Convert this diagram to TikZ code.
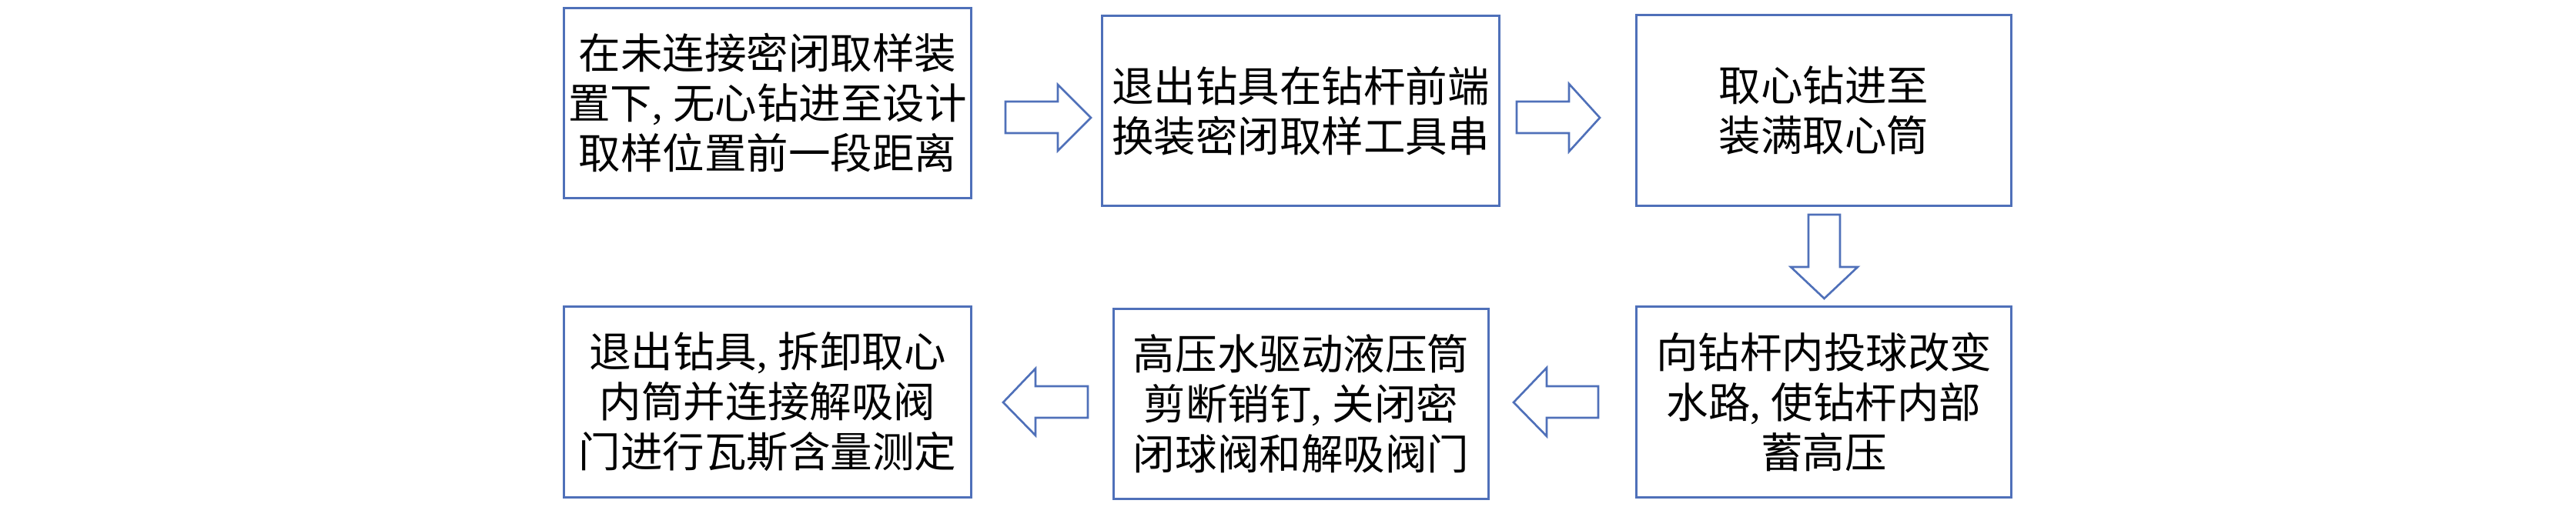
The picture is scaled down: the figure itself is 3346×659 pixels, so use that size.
\documentclass[tikz,border=0pt]{standalone}
\usepackage{fontspec}
\setmainfont{Noto Sans CJK SC}
\newfontfamily\lat{Liberation Serif}
\definecolor{boxblue}{RGB}{79,112,185}
\begin{document}
\begin{tikzpicture}[x=0.01cm,y=-0.01cm,
  box/.style={draw=boxblue,line width=0.85pt,align=center,inner sep=0pt,
    font=\fontsize{15.5pt}{18.5pt}\selectfont},
  blockarrow/.style={draw=boxblue,line width=0.75pt,line join=miter,fill=white}]
\useasboundingbox (0,0) rectangle (3346,659);
\node[box,minimum width=5.28cm,minimum height=2.46cm] (b1) at (997,134)
  {在未连接密闭取样装\\置下{\lat, }无心钻进至设计\\取样位置前一段距离};
\node[box,minimum width=5.15cm,minimum height=2.46cm] (b2) at (1689.5,144)
  {退出钻具在钻杆前端\\换装密闭取样工具串};
\node[box,minimum width=4.86cm,minimum height=2.47cm] (b3) at (2369,143.5)
  {取心钻进至\\装满取心筒};
\node[box,minimum width=4.86cm,minimum height=2.47cm] (b4) at (2369,522.5)
  {向钻杆内投球改变\\水路{\lat, }使钻杆内部\\蓄高压};
\node[box,minimum width=4.86cm,minimum height=2.46cm] (b5) at (1690,525)
  {高压水驱动液压筒\\剪断销钉{\lat, }关闭密\\闭球阀和解吸阀门};
\node[box,minimum width=5.28cm,minimum height=2.47cm] (b6) at (997,522.5)
  {退出钻具{\lat, }拆卸取心\\内筒并连接解吸阀\\门进行瓦斯含量测定};
% block arrows
\draw[blockarrow] (1306,132) -- (1374,132) -- (1374,110) -- (1417,153) -- (1374,196) -- (1374,173) -- (1306,173) -- cycle;
\draw[blockarrow] (1970,132) -- (2038,132) -- (2038,109) -- (2078,153) -- (2038,197) -- (2038,173) -- (1970,173) -- cycle;
\draw[blockarrow] (2349,279) -- (2390,279) -- (2390,347) -- (2413,347) -- (2369.5,388) -- (2326,347) -- (2349,347) -- cycle;
\draw[blockarrow] (2076,502) -- (2009,502) -- (2009,478) -- (1966,523) -- (2009,567) -- (2009,543) -- (2076,543) -- cycle;
\draw[blockarrow] (1413,502) -- (1345,502) -- (1345,479) -- (1303,523) -- (1345,566) -- (1345,543) -- (1413,543) -- cycle;
\end{tikzpicture}
\end{document}
